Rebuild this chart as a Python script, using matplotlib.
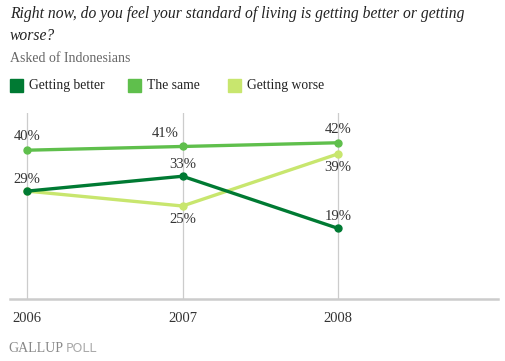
import matplotlib.pyplot as plt
from matplotlib.patches import Rectangle

years = [2006, 2007, 2008]
better = [29, 33, 19]
same = [40, 41, 42]
worse = [29, 25, 39]

c_better = '#007a33'
c_same = '#5fbf4c'
c_worse = '#c8e66e'

plt.rcParams['font.family'] = ['Liberation Serif', 'DejaVu Serif']

W, H = 505, 361
fig = plt.figure(figsize=(W / 100, H / 100), dpi=100)
ax = fig.add_axes([10 / W, (H - 299) / H, 488 / W, 186 / H])

ax.set_xlim(2005.89, 2009.03)
ax.set_ylim(0, 50)
for y in years:
    ax.axvline(y, color='#cccccc', lw=0.9, zorder=1)

for vals, col in [(same, c_same), (worse, c_worse), (better, c_better)]:
    ax.plot(years, vals, color=col, lw=2.4, marker='o', ms=5, zorder=3,
            solid_capstyle='round')

lab = dict(fontsize=10.5, color='#333333')
# label offsets in points: (dx, dy, ha, va)
offs_same = [(0, 5, 'center', 'bottom'), (-3, 5, 'right', 'bottom'), (0, 5, 'center', 'bottom')]
offs_better = [(0, 4, 'center', 'bottom'), (0, 4, 'center', 'bottom'), (0, 4, 'center', 'bottom')]
offs_worse = [(0, 0, 'center', 'bottom'), (0, -5, 'center', 'top'), (0, -5, 'center', 'top')]
for vals, offs in [(same, offs_same), (better, offs_better), (worse, offs_worse)]:
    for i, (x, v) in enumerate(zip(years, vals)):
        if vals is worse and i == 0:
            continue
        dx, dy, ha, va = offs[i]
        ax.annotate(f'{v}%', (x, v), xytext=(dx, dy), textcoords='offset points',
                    ha=ha, va=va, **lab)

for s in ['top', 'right', 'left']:
    ax.spines[s].set_visible(False)
ax.spines['bottom'].set_color('#cccccc')
ax.spines['bottom'].set_linewidth(1.8)
ax.set_yticks([])
ax.set_xticks(years)
ax.set_xticklabels([str(y) for y in years], fontsize=10.5, color='#333333')
ax.tick_params(axis='x', length=0, pad=9)

fig.text(10 / W, 1 - 14 / H, 'Right now, do you feel your standard of living is getting better or getting',
         fontsize=11.25, style='italic', color='#222222', va='center')
fig.text(10 / W, 1 - 36 / H, 'worse?', fontsize=11.25, style='italic', color='#222222', va='center')
fig.text(10 / W, 1 - 59 / H, 'Asked of Indonesians', fontsize=10, color='#666666', va='center')

legend = [('Getting better', c_better, 10), ('The same', c_same, 128), ('Getting worse', c_worse, 228)]
for name, col, x0 in legend:
    fig.patches.append(Rectangle((x0 / W, 1 - 92 / H), 13 / W, 13 / H, color=col,
                                 transform=fig.transFigure, figure=fig))
    fig.text((x0 + 19) / W, 1 - 89 / H, name, fontsize=9.8, color='#222222', va='baseline')

fig.text(8 / W, 1 - 349 / H, 'GALLUP', fontsize=10, color='#888888', va='center')
fig.text(66 / W, 1 - 349 / H, 'POLL', fontsize=9, color='#aaaaaa', va='center',
         family='DejaVu Sans')

fig.savefig('out.png', dpi=100)
